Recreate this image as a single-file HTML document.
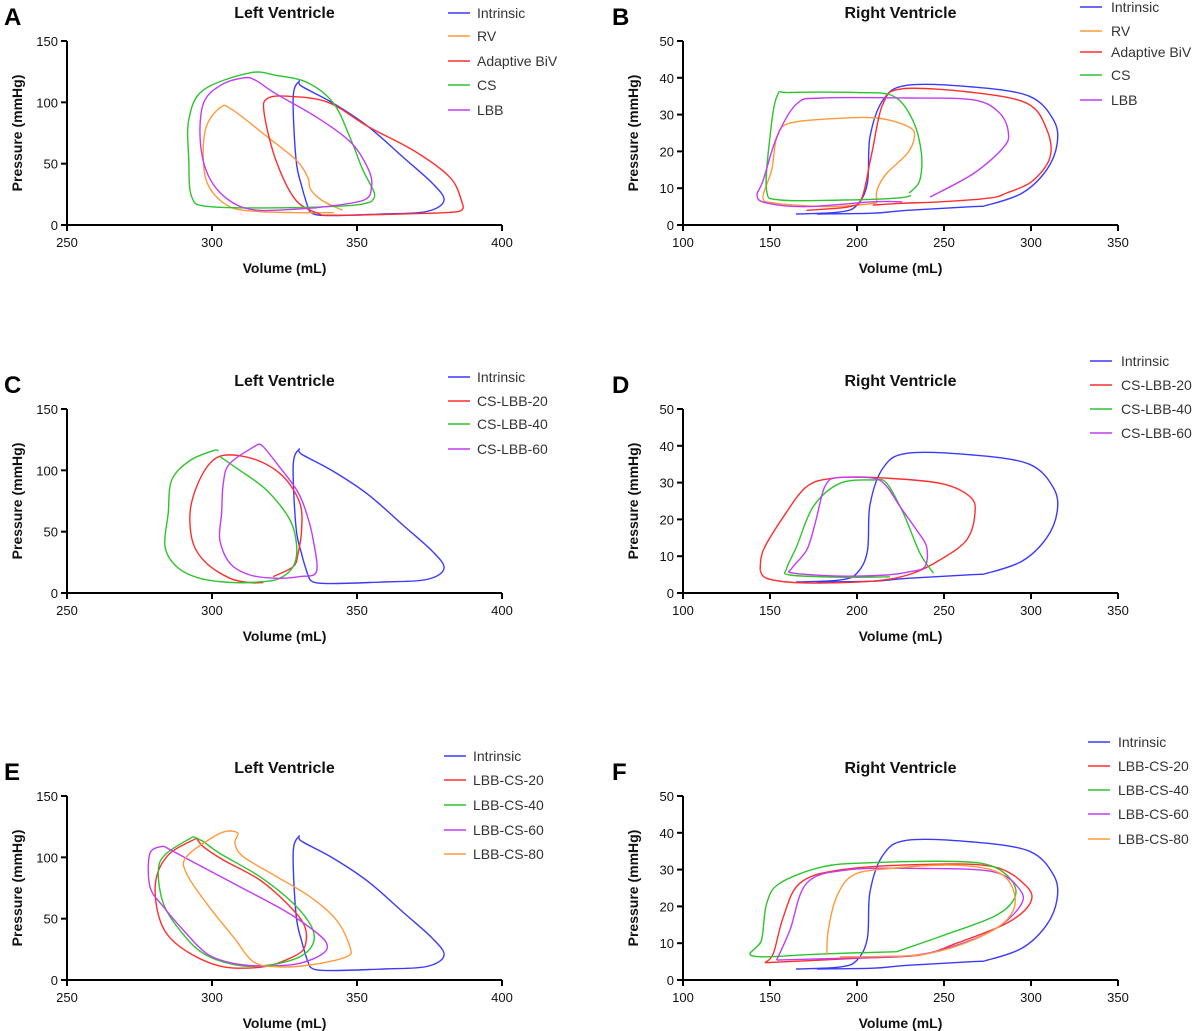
<!DOCTYPE html>
<html><head><meta charset="utf-8"><style>
html,body{margin:0;padding:0;background:#fff;}
svg{display:block;font-family:"Liberation Sans",Arial,sans-serif;}
.tick{font-size:13px;fill:#111;}
.axt{font-size:14px;font-weight:bold;fill:#111;}
.ttl{font-size:16px;font-weight:bold;fill:#111;}
.leg{font-size:14px;fill:#333;}
.let{font-size:24px;font-weight:bold;fill:#000;}
</style></head><body>
<svg id="chart" width="1200" height="1031" viewBox="0 0 1200 1031"></svg>
<script>
// ---- data (volume mL, pressure mmHg) ----
const lvIntrinsicV=[333,337,359,374,380,376,366,354,342,331,330,328,329,331,333];
const lvIntrinsicP=[15,8,9,11,20,34,55,80,99,113,117,104,53,31,15];
const rvIntrinsicV=[165,190,200,206,207.5,215,229,267,299,313,315,309,295,275,267,229,209,177];
const rvIntrinsicP=[3,3.5,5.4,11.4,24,34,38,37.5,35,28.5,22,15,8.7,5.4,5,4,3.2,3];

const aRvV=[342,330,316,306,299,297,298,303,307,319,329,333,334,338,345];
const aRvP=[10,10,11,15,31,53,80,96,94,72,53,39,29,20,12];
const aBivV=[338,329,322,318,319,326,340,354,370,382,386,386,380,365,348,338];
const aBivP=[8,20,53,91,103,105,100,80,60,39,20,12,10,9,8,8];
const aCsV=[355,348,324,299,293,292,292,297,313,322,333,342,348,352,356,355];
const aCsP=[19,16,14,15,23,53,86,110,124,122,116,99,69,45,26,19];
const aLbbV=[336,316,306,299,296,297,303,311,315,322,336,348,354,355,352,336];
const aLbbP=[14,12,20,39,67,99,114,120,118,107,88,67,45,31,20,14];

const bRvV=[211.5,211.5,217,229,233,230,213,190,161.5,154,151,146,152,180.5,200,211.5];
const bRvP=[6,9.5,14,19.5,24,26.6,29,29,27.7,24,15,7.6,6,5,5.4,6];
const bBivV=[171,196,203,208.5,215,226,267,298,309,311,301,286,276,248,226,209];
const bBivP=[4,5,7.6,19.5,33,37,36,33,26,18.5,12,8.7,7.3,6.3,5.9,5.4];
const bCsV=[231,223,193,156,148,150,154,161.5,200,221,232,237,236,230];
const bCsP=[8,7.3,6.8,6.8,9.5,24,35,36,36,35,28.5,19.5,12,8.7];
const bLbbV=[226,209,171,148,142.5,146,154,165.5,180,229,267,282,287,284,267,242];
const bLbbP=[6.3,6.3,5,6,8,12,24,33,34.5,34.5,34,30.4,25,21,14,7.6];

const cCs20V=[317.7,313.1,306.2,298.1,293.5,292.4,294.7,299.3,305,315.4,324.6,330.3,330.9,329.7,328,321.1];
const cCs20P=[8.5,8.5,12,24.2,40.5,65,86.7,105.7,112.5,108.4,94.9,73.1,51.4,32.4,21.5,13.4];
const cCs40V=[302.2,300.4,292.4,286.1,284.9,283.8,287.8,295.8,307.3,317.7,323.4,328,329.2,326.9,318.8,308.5,302.7];
const cCs40P=[116,116,108,92,65,38,21.5,12,8.5,9.3,12,21.5,37.8,59.5,84,101.7,111.2];
const cCs60V=[316,306.2,303.9,303.3,302.7,306.2,313.1,322.3,330.3,336,334.9,332.6,329.2,322.3,317.7,316];
const cCs60P=[121.5,105.7,89.4,65,43.2,24.2,14.7,12,13.4,17.4,43.2,65,84,105.7,119.3,121.5];

const dCs20V=[144.3,146.2,157.7,171.1,186.4,209.4,247.7,264.9,267.8,263,247.7,232.4,215.1,190.2,165.3,148.1,144.3];
const dCs20P=[6.25,11.7,20.7,28.9,31.2,31.4,29.8,26.2,21.7,14.4,9,5.4,3.5,2.8,2.8,4,6.25];
const dCs40V=[243.9,236.2,226.6,217.1,209.4,190.2,174.9,165.3,159.6,161.5,190.2,218.9];
const dCs40P=[5.4,10.8,21.7,29.8,30.7,29.8,23.5,12.6,6.7,4.9,4.3,4.4];
const dCs60V=[184.5,180.7,175.9,171.1,162.5,163.4,190.2,217.1,230.5,239.1,240,234.3,224.7,217.1,209.4,190.2,184.5];
const dCs60P=[30.9,28,18.9,11.7,6.7,5.4,4.6,4.9,5.8,7.2,12.6,17.1,23.5,28.9,31.2,31.4,30.9];

const eCs20V=[294.7,285.5,280.9,280.9,284.3,292.4,303.9,317.7,328,332,332,326.9,316.5,303.9,297,294.7];
const eCs20P=[115.5,103.2,84.2,59.8,38,21.7,10.8,10.8,19,27.2,43.5,59.8,81.5,97.8,108.7,115.5];
const eCs40V=[293.5,284.3,281.5,283.2,288.9,297,308.5,320,330.3,334.9,334.3,328,316.5,302.7,297,293.5];
const eCs40P=[116.8,103.2,89.6,62.5,40.7,21.7,12.2,12.2,19,29.9,43.5,62.5,84.2,103.2,112.8,116.8];
const eCs60V=[283.2,278.6,278.6,283.2,290.1,298.1,307.3,318.8,330.3,338.3,339.5,334.9,324.6,307.3,290.1,283.2];
const eCs60P=[109.2,103.2,76.1,59.8,40.7,21.7,13.6,11.4,13.6,21.7,29.9,40.7,57.1,78.8,100.5,109.2];
const eCs80V=[306.2,301.6,291.2,291.2,298.1,307.3,314.2,322.3,333.8,346.4,347.5,342.9,333.8,322.3,310.8,307.9,309,306.2];
const eCs80P=[121.7,118.2,100.5,86.9,62.5,35.3,15,10.8,12.2,19,27.2,48.9,67.9,84.2,100.5,111.4,119.5,121.7];

const fCs20V=[147.1,151.9,157.7,167.2,190.2,238.1,278.4,297.5,299.4,286,257.3,236.2,199.8,147.1];
const fCs20P=[4.7,7.2,17.2,26.3,29.9,31.4,30.8,25.4,20.8,15.4,10,6.8,5.9,4.7];
const fCs40V=[222.8,180.7,140.4,145.2,148.1,155.7,180.7,209.4,257.3,278.4,289.9,289.9,278.4,247.7,222.8];
const fCs40P=[7.7,7.1,6.5,10.9,20.8,26.3,30.8,31.9,32.2,30.8,26.3,21.7,17.2,11.8,7.7];
const fCs60V=[153.8,161.5,171.1,194.1,238.1,278.4,293.7,293.7,278.4,251.5,228.5,190.2,153.8];
const fCs60P=[5.4,13.6,26.3,29.9,30.3,29.4,24.5,20,13.6,8.6,6.5,5.9,5.4];
const fCs80V=[182.6,183.5,188.3,197.9,219,257.3,282.2,290.8,286,266.9,240,213.2,190.2];
const fCs80P=[6.8,13.6,22.6,28.5,30.3,31.2,29,22.6,16.3,10.9,7.1,6.4,6.3];

const lvXTicks=[250,300,350,400];
const lvYTicks=[0,50,100,150];
const rvXTicks=[100,150,200,250,300,350];
const rvYTicks=[0,10,20,30,40,50];

const COL={blue:"#3a3aff",orange:"#ff9a3a",red:"#ff2e2e",green:"#2ec42e",purple:"#c23cf5"};
const NS="http://www.w3.org/2000/svg";
const svg=document.getElementById("chart");
function mk(tag,attrs,parent){const e=document.createElementNS(NS,tag);for(const k in attrs)e.setAttribute(k,attrs[k]);(parent||svg).appendChild(e);return e;}

function lvX(v){return 67+(v-250)/150*435;}
function rvX(v){return 683+(v-100)/250*435;}
function lvY(p,y0){return y0-p/150*184;}
function rvY(p,y0){return y0-p/50*184;}

function smooth(pts){
  let d="M"+pts[0][0].toFixed(1)+","+pts[0][1].toFixed(1);
  for(let i=0;i<pts.length-1;i++){
    const p0=pts[Math.max(0,i-1)],p1=pts[i],p2=pts[i+1],p3=pts[Math.min(pts.length-1,i+2)];
    const c1=[p1[0]+(p2[0]-p0[0])/6,p1[1]+(p2[1]-p0[1])/6];
    const c2=[p2[0]-(p3[0]-p1[0])/6,p2[1]-(p3[1]-p1[1])/6];
    d+="C"+c1[0].toFixed(1)+","+c1[1].toFixed(1)+" "+c2[0].toFixed(1)+","+c2[1].toFixed(1)+" "+p2[0].toFixed(1)+","+p2[1].toFixed(1);
  }
  return d;
}

function panel(cfg){
  const g=mk("g",{});
  
  
  const xs=cfg.lv?lvX:rvX, ys=cfg.lv?(p)=>lvY(p,cfg.y0):(p)=>rvY(p,cfg.y0);
  const xl=cfg.lv?67:683, xr=cfg.lv?502:1118, top=cfg.y0-184;
  const cx=(xl+xr)/2;
  // letter
  const L=mk("text",{x:cfg.lv?4:612,y:cfg.y0-184-16,class:"let"},g);L.textContent=cfg.id;
   
  const T=mk("text",{x:cx,y:cfg.y0-207,class:"ttl","text-anchor":"middle"},g);T.textContent=cfg.lv?"Left Ventricle":"Right Ventricle";
   
  // axes
  const ax=mk("path",{d:`M${xl},${top}V${cfg.y0}H${xr}`,stroke:"#000","stroke-width":2,fill:"none"},g);
   
  const xt=cfg.lv?lvXTicks:rvXTicks, yt=cfg.lv?lvYTicks:rvYTicks;
  xt.forEach(v=>{const x=xs(v);
    const t=mk("line",{x1:x,x2:x,y1:cfg.y0,y2:cfg.y0+6,stroke:"#000","stroke-width":2},g);
     
    const s=mk("text",{x:x,y:cfg.y0+22,class:"tick","text-anchor":"middle"},g);s.textContent=v;
     });
  yt.forEach(p=>{const y=ys(p);
    const t=mk("line",{x1:xl-6,x2:xl,y1:y,y2:y,stroke:"#000","stroke-width":2},g);
     
    const s=mk("text",{x:xl-9,y:y+5,class:"tick","text-anchor":"end"},g);s.textContent=p;
     });
  const xa=mk("text",{x:cx,y:cfg.y0+48,class:"axt","text-anchor":"middle"},g);xa.textContent="Volume (mL)";
   
  const yx=xl-45, yy=cfg.y0-92;
  const ya=mk("text",{x:yx,y:yy,class:"axt","text-anchor":"middle",transform:`rotate(-90 ${yx} ${yy})`},g);ya.textContent="Pressure (mmHg)";
   
  // series
  cfg.series.forEach((s,i)=>{
    const pts=s.v.map((v,k)=>[xs(v),ys(s.p[k])]);
    const pa=mk("path",{d:smooth(pts),stroke:COL[s.c],"stroke-width":1.4,fill:"none"},g);
    
    
    const ly=cfg.leg.y[i];
    const ll=mk("line",{x1:cfg.leg.x,x2:cfg.leg.x+22,y1:ly,y2:ly,stroke:COL[s.c],"stroke-width":1.5},g);
     
    const lt=mk("text",{x:cfg.leg.tx,y:ly+5,class:"leg"},g);lt.textContent=s.name;
     
  });
}

panel({id:"A",lv:true,y0:225,leg:{x:448,tx:477,y:[13,36,61,85,110]},series:[
 {name:"Intrinsic",c:"blue",v:lvIntrinsicV,p:lvIntrinsicP},
 {name:"RV",c:"orange",v:aRvV,p:aRvP},
 {name:"Adaptive BiV",c:"red",v:aBivV,p:aBivP},
 {name:"CS",c:"green",v:aCsV,p:aCsP},
 {name:"LBB",c:"purple",v:aLbbV,p:aLbbP}]});
panel({id:"B",lv:false,y0:225,leg:{x:1080,tx:1111,y:[7,31,52,75,100]},series:[
 {name:"Intrinsic",c:"blue",v:rvIntrinsicV,p:rvIntrinsicP},
 {name:"RV",c:"orange",v:bRvV,p:bRvP},
 {name:"Adaptive BiV",c:"red",v:bBivV,p:bBivP},
 {name:"CS",c:"green",v:bCsV,p:bCsP},
 {name:"LBB",c:"purple",v:bLbbV,p:bLbbP}]});
panel({id:"C",lv:true,y0:593,leg:{x:448,tx:477,y:[377,401,424,449]},series:[
 {name:"Intrinsic",c:"blue",v:lvIntrinsicV,p:lvIntrinsicP},
 {name:"CS-LBB-20",c:"red",v:cCs20V,p:cCs20P},
 {name:"CS-LBB-40",c:"green",v:cCs40V,p:cCs40P},
 {name:"CS-LBB-60",c:"purple",v:cCs60V,p:cCs60P}]});
panel({id:"D",lv:false,y0:593,leg:{x:1090,tx:1121,y:[361,385,409,433]},series:[
 {name:"Intrinsic",c:"blue",v:rvIntrinsicV,p:rvIntrinsicP},
 {name:"CS-LBB-20",c:"red",v:dCs20V,p:dCs20P},
 {name:"CS-LBB-40",c:"green",v:dCs40V,p:dCs40P},
 {name:"CS-LBB-60",c:"purple",v:dCs60V,p:dCs60P}]});
panel({id:"E",lv:true,y0:980,leg:{x:444,tx:473,y:[756,780,805,830,854]},series:[
 {name:"Intrinsic",c:"blue",v:lvIntrinsicV,p:lvIntrinsicP},
 {name:"LBB-CS-20",c:"red",v:eCs20V,p:eCs20P},
 {name:"LBB-CS-40",c:"green",v:eCs40V,p:eCs40P},
 {name:"LBB-CS-60",c:"purple",v:eCs60V,p:eCs60P},
 {name:"LBB-CS-80",c:"orange",v:eCs80V,p:eCs80P}]});
panel({id:"F",lv:false,y0:980,leg:{x:1088,tx:1118,y:[742,766,790,814,839]},series:[
 {name:"Intrinsic",c:"blue",v:rvIntrinsicV,p:rvIntrinsicP},
 {name:"LBB-CS-20",c:"red",v:fCs20V,p:fCs20P},
 {name:"LBB-CS-40",c:"green",v:fCs40V,p:fCs40P},
 {name:"LBB-CS-60",c:"purple",v:fCs60V,p:fCs60P},
 {name:"LBB-CS-80",c:"orange",v:fCs80V,p:fCs80P}]});
</script>
</body></html>
